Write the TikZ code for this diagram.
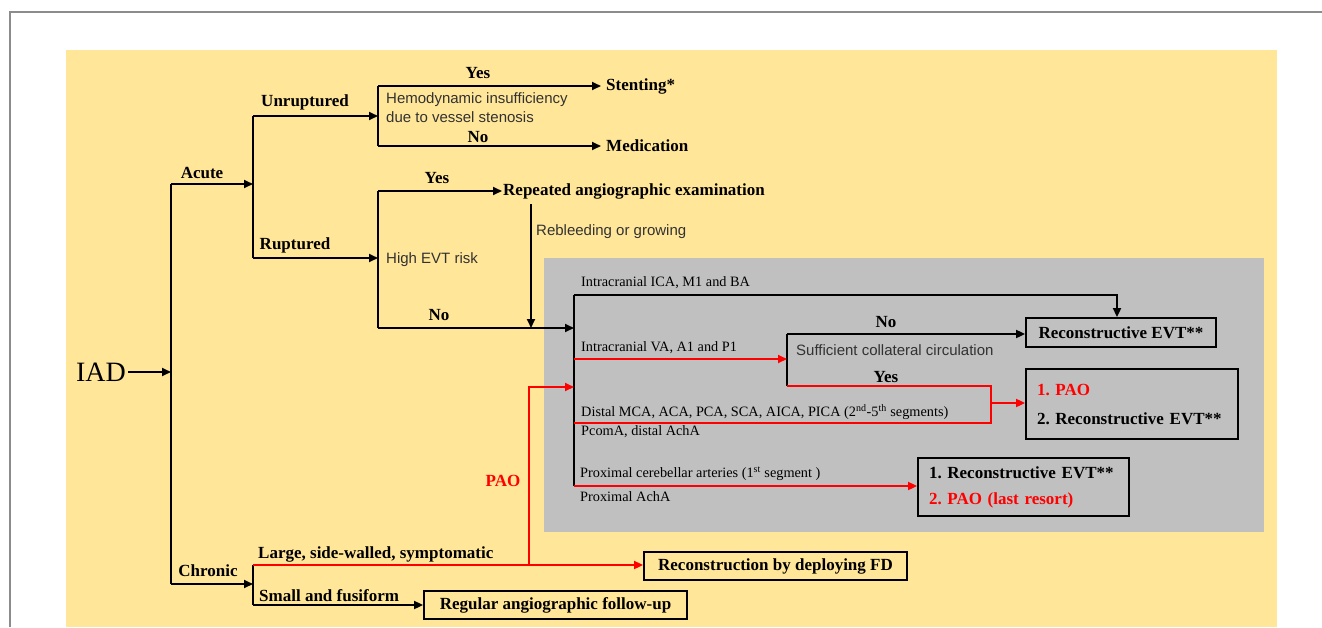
\documentclass[tikz,border=0pt]{standalone}
\usepackage{fontspec}
\setmainfont{Liberation Serif}
\newfontfamily\sansf{Liberation Sans}
\usetikzlibrary{arrows.meta}
\definecolor{bgyellow}{RGB}{255,230,153}
\definecolor{boxgrey}{RGB}{192,192,192}
\definecolor{pred}{RGB}{255,0,0}
\definecolor{frameg}{RGB}{140,140,140}
\definecolor{sanscol}{RGB}{50,50,50}
\frenchspacing
\begin{document}
\begin{tikzpicture}[x=1pt,y=-1pt,
  ln/.style={line width=1.8pt, draw=black},
  rl/.style={line width=1.8pt, draw=pred},
  arr/.style={-{Triangle[length=9pt,width=8pt]}},
  bl/.style={font=\fontsize{17}{20}\selectfont\bfseries, inner sep=0pt},
  sl/.style={font=\fontsize{15}{19}\selectfont\sansf, text=sanscol, inner sep=0pt, align=left},
  tl/.style={font=\fontsize{14.3}{17}\selectfont, inner sep=0pt},
  outbox/.style={draw=black, line width=1.8pt, inner sep=0pt, font=\fontsize{17}{20}\selectfont\bfseries}
]
% canvas
\useasboundingbox (0,0) rectangle (1322,627);
\fill[white] (0,0) rectangle (1322,627);
\draw[frameg, line width=1.5pt] (10,627) -- (10,12) -- (1322,12);
\fill[bgyellow] (66,50) rectangle (1277,627);
\fill[boxgrey] (544,258) rectangle (1264,532);

% ---------- nodes ----------
\node[font=\fontsize{28}{30}\selectfont, inner sep=0pt, anchor=east] (iad) at (126,372) {IAD};
\node[bl] (acute) at (202,173) {Acute};
\node[bl] (unrup) at (305,102) {Unruptured};
\node[bl] (rup) at (295,245) {Ruptured};
\node[bl] (chronic) at (208,571) {Chronic};

\node[bl] (yes1) at (478,73) {Yes};
\node[bl] (no1) at (478,137) {No};
\node[sl, anchor=west] (hemo) at (386,107.5) {Hemodynamic insufficiency\\due to vessel stenosis};
\node[bl, anchor=west, inner xsep=5pt] (stent) at (601,86) {Stenting*};
\node[bl, anchor=west, inner xsep=5pt] (med) at (601,146) {Medication};

\node[bl] (yes2) at (437,178) {Yes};
\node[bl] (no2) at (439,315) {No};
\node[sl, anchor=west] (high) at (386,260) {High EVT risk};
\node[bl, anchor=west, inner xsep=1pt] (rep) at (502,191) {Repeated angiographic examination};
\node[sl, anchor=west] (rebl) at (536,232) {Rebleeding or growing};

% grey region texts
\node[tl, anchor=west] (ica) at (581,283) {Intracranial ICA, M1 and BA};
\node[tl, anchor=west] (va) at (581,348) {Intracranial VA, A1 and P1};
\node[tl, anchor=west] (dist) at (581,412) {Distal MCA, ACA, PCA, SCA, AICA, PICA (2\textsuperscript{nd}-5\textsuperscript{th} segments)};
\node[tl, anchor=west] (pcom) at (581,432) {PcomA, distal AchA};
\node[tl, anchor=west] (prox) at (580,474) {Proximal cerebellar arteries (1\textsuperscript{st} segment )};
\node[tl, anchor=west] (proxa) at (580,497) {Proximal AchA};

\node[bl] (no3) at (886,322) {No};
\node[bl] (yes3) at (886,377) {Yes};
\node[sl, anchor=west] (suff) at (796,350) {Sufficient collateral circulation};

\node[outbox, minimum width=190pt, minimum height=29pt] (evt) at (1121,332.5) {Reconstructive EVT**};
\node[outbox, minimum width=212pt, minimum height=70pt, text width=190pt, align=left,
      font=\fontsize{17}{29}\selectfont\bfseries] (pao) at (1132,404)
      {\textcolor{pred}{1. PAO}\\2. Reconstructive EVT**};
\node[outbox, minimum width=211pt, minimum height=58pt, text width=189pt, align=left,
      font=\fontsize{17}{26}\selectfont\bfseries] (last) at (1023.5,487)
      {1. Reconstructive EVT**\\\textcolor{pred}{2. PAO (last resort)}};

\node[bl, text=pred] (paolab) at (503,481) {PAO};
\node[bl, anchor=west] (large) at (258,554) {Large, side-walled, symptomatic};
\node[bl, anchor=west] (small) at (259,596) {Small and fusiform};
\node[outbox, minimum width=263pt, minimum height=28pt] (fd) at (775.5,566) {Reconstruction by deploying FD};
\node[outbox, minimum width=263pt, minimum height=28pt] (reg) at (555.5,605) {Regular angiographic follow-up};

% ---------- junction coordinates ----------
\coordinate (tA) at (171,184);
\coordinate (tI) at (171,372);
\coordinate (tC) at (171,584);
\coordinate (u0) at (253,116);
\coordinate (aE) at (253,184);
\coordinate (r0) at (253,258);
\coordinate (u1) at (378,116);
\coordinate (h0) at (378,86);
\coordinate (h1) at (378,146);
\coordinate (r1) at (378,258);
\coordinate (e0) at (378,191);
\coordinate (e1) at (378,328);
\coordinate (rb0) at (531,204);
\coordinate (rb1) at (531,328);
\coordinate (g0) at (574,295);
\coordinate (g1) at (574,328);
\coordinate (gR) at (574,387);
\coordinate (g3) at (574,359);
\coordinate (g4) at (574,423);
\coordinate (g2) at (574,486);
\coordinate (icaC) at (1117,295);
\coordinate (c0) at (787,334);
\coordinate (c1) at (787,386);
\coordinate (c3) at (787,359);
\coordinate (d0) at (991,386);
\coordinate (d1) at (991,423);
\coordinate (dm) at (991,403);
\coordinate (k0) at (253,565);
\coordinate (kC) at (253,584);
\coordinate (k1) at (253,605);
\coordinate (pv0) at (529,565);
\coordinate (pv1) at (529,387);

% ---------- black connectors ----------
\draw[ln, arr] (iad.east) ++(2,0) -- (tI);
\draw[ln] (tA) -- (tC);
\draw[ln, arr] (tA) -- (aE);
\draw[ln] (u0) -- (r0);
\draw[ln, arr] (u0) -- (u1);
\draw[ln, arr] (r0) -- (r1);
\draw[ln] (h0) -- (h1);
\draw[ln, arr] (h0) -- (h0 -| stent.west);
\draw[ln, arr] (h1) -- (h1 -| med.west);
\draw[ln] (e0) -- (e1);
\draw[ln, arr] (e0) -- (e0 -| rep.west);
\draw[ln, arr] (rb0) -- (rb1);
\draw[ln, arr] (e1) -- (g1);
\draw[ln] (g0) -- (g2);
\draw[ln, arr] (g0) -- (icaC) -- (icaC |- evt.north);
\draw[ln] (c0) -- (c1);
\draw[ln, arr] (c0) -- (c0 -| evt.west);
\draw[ln, arr] (tC) -- (kC);
\draw[ln] (k0) -- (k1);
\draw[ln, arr] (k1) -- (k1 -| reg.west);

% ---------- red connectors ----------
\draw[rl, arr] (g3) -- (c3);
\draw[rl] (c1) -- (d0) -- (d1) -- (g4);
\draw[rl, arr] (dm) -- (dm -| pao.west);
\draw[rl, arr] (g2) -- (g2 -| last.west);
\draw[rl, arr] (k0) -- (k0 -| fd.west);
\draw[rl, arr] (pv0) -- (pv1) -- (gR);
\end{tikzpicture}
\end{document}
